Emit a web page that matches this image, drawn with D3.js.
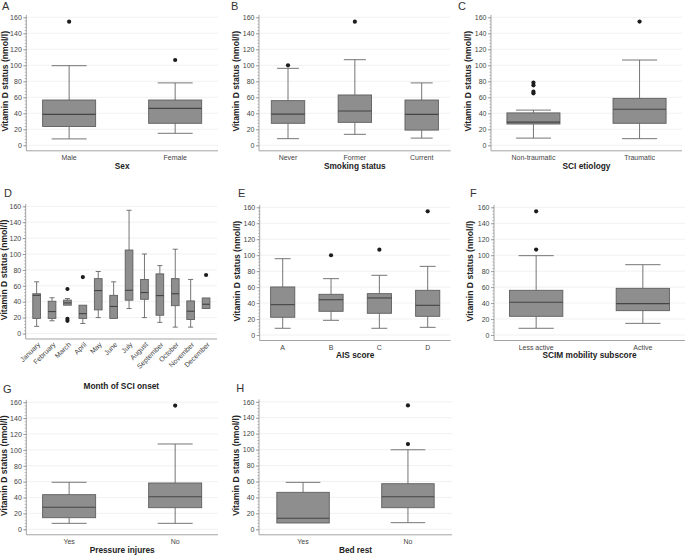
<!DOCTYPE html>
<html><head><meta charset="utf-8">
<script src="https://cdn.jsdelivr.net/npm/d3@7"></script>
<style>body{margin:0;background:#fff}svg{display:block;font-family:"Liberation Sans",Arial,sans-serif}</style>
</head><body><svg id="c" width="685" height="555"></svg>
<script>
// ---- data: [low whisker, Q1, median, Q3, high whisker] ----
const yTicks = [0, 20, 40, 60, 80, 100, 120, 140, 160];

const sexCats = ["Male", "Female"];
const sexStats = [[8, 23.5, 38.7, 56.6, 99.5], [15, 27.5, 46.2, 56.6, 78]];
const sexOut = [[154.5], [106.6]];

const smokeCats = ["Never", "Former", "Current"];
const smokeStats = [[8.3, 27.5, 39, 55.8, 96.2], [13.7, 28.7, 42.9, 62.9, 107], [9, 19, 38.7, 56.6, 78]];
const smokeOut = [[100], [154.5], []];

const etioCats = ["Non-traumatic", "Traumatic"];
const etioStats = [[9, 26.6, 29, 40.5, 44], [8.3, 27.5, 45, 58.7, 106.6]];
const etioOut = [[78.3, 75, 67, 65], [154.6]];

const monthCats = ["January", "February", "March", "April", "May", "June", "July", "August", "September", "October", "November", "December"];
const monthStats = [
  [9, 19, 48, 50, 65], [16, 19, 27.6, 40.6, 45], [35.6, 35.6, 38.5, 42, 44], [12.6, 19, 25, 35.6, 35.6],
  [20, 29.7, 54, 69, 78], [19, 19, 34, 48, 65], [31.4, 41.9, 54.4, 105, 155], [20, 43, 51.5, 68, 100],
  [14, 23, 47.7, 75, 85.4], [8, 35, 50, 69, 106], [8, 17.6, 28, 41, 68], [31.4, 31.4, 36.8, 44.7, 44.7]];
const monthOut = [[], [], [56, 18.4, 16], [71], [], [], [], [], [], [], [], [73.6]];

const aisCats = ["A", "B", "C", "D"];
const aisStats = [[8.4, 22.2, 38, 60.2, 95.6], [18.4, 29.7, 44.2, 51, 70.6], [8.4, 27.2, 46.4, 51.8, 74.8], [9.6, 23.4, 37.2, 56, 86]];
const aisOut = [[], [99.9], [106.9], [155]];

const scimCats = ["Less active", "Active"];
const scimStats = [[8.4, 23.4, 41, 56, 99.4], [14.6, 30.5, 39.3, 58.5, 88.1]];
const scimOut = [[155, 107], []];

const pressCats = ["Yes", "No"];
const pressStats = [[7.5, 14.6, 27.7, 43.6, 59.2], [7.5, 27.2, 41, 58.3, 107.4]];
const pressOut = [[], [155.7]];

const bedCats = ["Yes", "No"];
const bedStats = [[7.9, 7.9, 13.8, 46.4, 58.9], [8.3, 27.1, 40.9, 57.2, 99.8]];
const bedOut = [[], [155.5, 107]];

// ---- layout ----
const panels = [
  {letter: "A", cats: sexCats, stats: sexStats, out: sexOut, title: "Sex", x0: 26.3, x1: 218, pad: 0.404, y0: 145.3, y160: 17.3, lx: 2, ly: 10.3, ytx: 4.5},
  {letter: "B", cats: smokeCats, stats: smokeStats, out: smokeOut, title: "Smoking status", x0: 259, x1: 450.7, pad: 0.434, y0: 145.3, y160: 17.3, lx: 231, ly: 10.3, ytx: 236},
  {letter: "C", cats: etioCats, stats: etioStats, out: etioOut, title: "SCI etiology", x0: 491, x1: 682, pad: 0.40, y0: 145.3, y160: 17.3, lx: 458, ly: 10.3, ytx: 468},
  {letter: "D", cats: monthCats, stats: monthStats, out: monthOut, title: "Month of SCI onset", x0: 25.7, x1: 217, pad: 0.71, y0: 333.5, y160: 206.3, lx: 4, ly: 197.3, ytx: 4, rotate: true},
  {letter: "E", cats: aisCats, stats: aisStats, out: aisOut, title: "AIS score", x0: 259.7, x1: 450.7, pad: 0.476, y0: 335, y160: 207.3, lx: 238, ly: 196.7, ytx: 236.7},
  {letter: "F", cats: scimCats, stats: scimStats, out: scimOut, title: "SCIM mobility subscore", x0: 494, x1: 685, pad: 0.395, y0: 335, y160: 207.3, lx: 470, ly: 196.7, ytx: 470.3},
  {letter: "G", cats: pressCats, stats: pressStats, out: pressOut, title: "Pressure injures", x0: 26.3, x1: 218, pad: 0.404, y0: 529.3, y160: 402.2, lx: 3, ly: 392.7, ytx: 4},
  {letter: "H", cats: bedCats, stats: bedStats, out: bedOut, title: "Bed rest", x0: 259, x1: 452, pad: 0.42, y0: 529.3, y160: 401.8, lx: 236.3, ly: 392.3, ytx: 236}
];

const svg = d3.select("#c");

panels.forEach(p => {
  const g = svg.append("g");
  const y = d3.scaleLinear().domain([0, 160]).range([p.y0, p.y160]);
  const x = d3.scalePoint().domain(p.cats).range([p.x0, p.x1]).padding(p.pad);
  const step = x.step();
  const bw = step * 0.5, cw = step * 0.33;
  const axisY = y(-6.9);

  // gridlines
  g.append("g").selectAll("line").data(yTicks).join("line")
    .attr("x1", p.x0).attr("x2", p.x1)
    .attr("y1", d => y(d)).attr("y2", d => y(d))
    .attr("stroke", "#eeeeee").attr("stroke-width", 0.8);

  // minor ticks
  const minor = g.append("g").attr("transform", `translate(${p.x0},0)`)
    .call(d3.axisLeft(y).tickValues(d3.range(0, 161, 4)).tickSize(1.6).tickFormat(""));
  minor.select(".domain").remove();
  minor.selectAll("line").attr("stroke", "#9a9a9a").attr("stroke-width", 0.7);

  // major y axis
  const ya = g.append("g").attr("transform", `translate(${p.x0},0)`)
    .call(d3.axisLeft(y).tickValues(yTicks).tickSize(3).tickPadding(1.5));
  ya.select(".domain").remove();
  ya.selectAll("line").attr("stroke", "#888").attr("stroke-width", 0.8);
  ya.selectAll("text").attr("fill", "#444").style("font-size", "7px").style("font-family", "'Liberation Sans',Arial,sans-serif");

  // axis lines
  g.append("line").attr("x1", p.x0).attr("x2", p.x0).attr("y1", y(163)).attr("y2", axisY)
    .attr("stroke", "#9a9a9a").attr("stroke-width", 0.9);
  g.append("line").attr("x1", p.x0).attr("x2", p.x1).attr("y1", axisY).attr("y2", axisY)
    .attr("stroke", "#9a9a9a").attr("stroke-width", 0.9);

  // boxes
  const bx = g.append("g").selectAll("g").data(p.cats).join("g");
  bx.each(function(c, i) {
    const s = p.stats[i], cx = x(c), gg = d3.select(this);
    const wcol = "#666";
    if (s[4] > s[3]) {
      gg.append("line").attr("x1", cx).attr("x2", cx).attr("y1", y(s[4])).attr("y2", y(s[3])).attr("stroke", wcol).attr("stroke-width", 0.9);
      gg.append("line").attr("x1", cx - cw / 2).attr("x2", cx + cw / 2).attr("y1", y(s[4])).attr("y2", y(s[4])).attr("stroke", wcol).attr("stroke-width", 0.9);
    }
    if (s[0] < s[1]) {
      gg.append("line").attr("x1", cx).attr("x2", cx).attr("y1", y(s[1])).attr("y2", y(s[0])).attr("stroke", wcol).attr("stroke-width", 0.9);
      gg.append("line").attr("x1", cx - cw / 2).attr("x2", cx + cw / 2).attr("y1", y(s[0])).attr("y2", y(s[0])).attr("stroke", wcol).attr("stroke-width", 0.9);
    }
    gg.append("rect").attr("x", cx - bw / 2).attr("width", bw)
      .attr("y", y(s[3])).attr("height", y(s[1]) - y(s[3]))
      .attr("fill", "#8e8e8e").attr("stroke", "#5e5e5e").attr("stroke-width", 0.9);
    gg.append("line").attr("x1", cx - bw / 2).attr("x2", cx + bw / 2).attr("y1", y(s[2])).attr("y2", y(s[2]))
      .attr("stroke", "#444").attr("stroke-width", 1.1);
    gg.selectAll("circle").data(p.out[i]).join("circle")
      .attr("cx", cx).attr("cy", d => y(d)).attr("r", 2.1).attr("fill", "#1c1c1c");
  });

  // category labels
  if (p.rotate) {
    g.append("g").selectAll("text").data(p.cats).join("text")
      .attr("transform", d => `translate(${x(d) + 4},${axisY + 6}) rotate(-45)`)
      .attr("text-anchor", "end").attr("fill", "#444").style("font-size", "7px").text(d => d);
    g.append("text").attr("x", (p.x0 + p.x1) / 2).attr("y", 388.5).attr("text-anchor", "middle")
      .style("font-size", "8.3px").style("font-weight", "bold").attr("fill", "#222").text(p.title);
  } else {
    g.append("g").selectAll("text").data(p.cats).join("text")
      .attr("x", d => x(d)).attr("y", axisY + 9.4).attr("text-anchor", "middle")
      .attr("fill", "#444").style("font-size", "7px").text(d => d);
    g.append("text").attr("x", (p.x0 + p.x1) / 2).attr("y", axisY + 17.9).attr("text-anchor", "middle")
      .style("font-size", "8.3px").style("font-weight", "bold").attr("fill", "#222").text(p.title);
  }

  // y title
  g.append("text").attr("transform", `translate(${p.ytx},${(p.y0 + p.y160) / 2}) rotate(-90)`)
    .attr("text-anchor", "middle").attr("dy", "0.35em")
    .style("font-size", "8.6px").style("font-weight", "bold").attr("fill", "#222")
    .text("Vitamin D status (nmol/l)");

  // panel letter
  g.append("text").attr("x", p.lx).attr("y", p.ly).style("font-size", "11px").attr("fill", "#333").text(p.letter);
});
</script>
</body></html>
